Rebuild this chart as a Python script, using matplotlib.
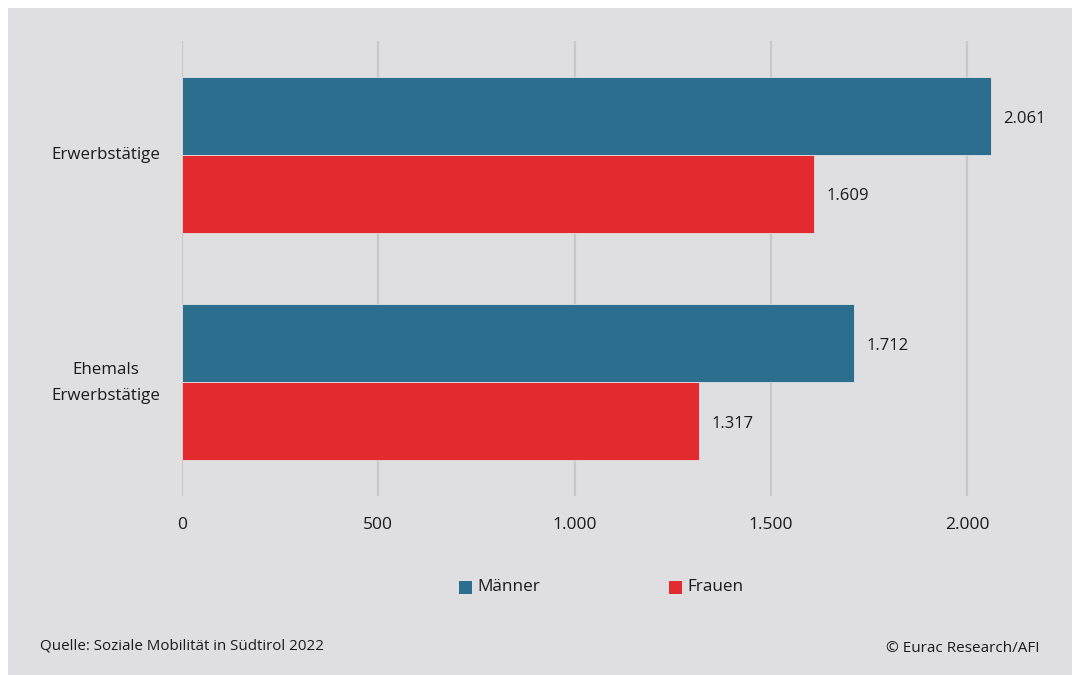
import matplotlib
matplotlib.use("Agg")
import matplotlib.pyplot as plt
from matplotlib.patches import Rectangle
import matplotlib.transforms as mtransforms
import numpy as np

categories = ["Erwerbstätige", "Ehemals\nErwerbstätige"]
maenner = [2061, 1712]
frauen = [1609, 1317]
value_labels_m = ["2.061", "1.712"]
value_labels_f = ["1.609", "1.317"]
xticks = [0, 500, 1000, 1500, 2000]
xtick_labels = ["0", "500", "1.000", "1.500", "2.000"]
series_names = ["Männer", "Frauen"]

BLUE = "#2c6e8e"
RED = "#e32b2f"
BG = "#dfdfe1"
GRID = "#c8c8ca"
TXT = "#1a1a1a"

plt.rcParams['font.family'] = ['Open Sans', 'DejaVu Sans']

W, H = 1072, 675
fig = plt.figure(figsize=(W/100, H/100), dpi=100)
fig.patch.set_facecolor("white")
fig.add_artist(Rectangle((8/W, 0), 1, 1 - 8/H, transform=fig.transFigure,
                         facecolor=BG, edgecolor="none", zorder=0))

x0, x1 = 182, 182 + 2200 * (196.25 / 500)
ytop, ybot = 41, 496
ax = fig.add_axes([x0/W, 1 - ybot/H, (x1 - x0)/W, (ybot - ytop)/H])
ax.set_facecolor("none")
ax.set_xlim(0, 2200)
ax.set_ylim(1.5, -0.5)

y = np.arange(len(categories))
h = 0.342
ax.barh(y - h/2, maenner, height=h, color=BLUE, edgecolor="#dfe4e8", linewidth=0.6, zorder=3, label=series_names[0])
ax.barh(y + h/2, frauen, height=h, color=RED, edgecolor="#e8dede", linewidth=0.6, zorder=3, label=series_names[1])

down = mtransforms.ScaledTranslation(0, -2/72, fig.dpi_scale_trans)
for yi, v, lab in zip(y, maenner, value_labels_m):
    ax.text(v + 32, yi - h/2, lab, va="center", ha="left", fontsize=12, color=TXT,
            transform=ax.transData + down)
for yi, v, lab in zip(y, frauen, value_labels_f):
    ax.text(v + 32, yi + h/2, lab, va="center", ha="left", fontsize=12, color=TXT,
            transform=ax.transData + down)

ax.set_xticks(xticks)
ax.set_xticklabels(xtick_labels, fontsize=12.5, color=TXT)
ax.grid(axis="x", color=GRID, linewidth=1.6, zorder=0)
ax.tick_params(axis="x", length=0, pad=15)
ax.tick_params(axis="y", length=0, pad=16)
ax.set_yticks(y)
ax.set_yticklabels(categories, fontsize=12.2, color=TXT, linespacing=1.85)
for lbl, cat in zip(ax.get_yticklabels(), categories):
    lbl.set_multialignment("center")
    nl = cat.count("\n")
    up = (1.5 + 4.5 * nl) * 0.75  # points
    lbl.set_transform(lbl.get_transform() +
                      mtransforms.ScaledTranslation(0, up/72, fig.dpi_scale_trans))
for s in ax.spines.values():
    s.set_visible(False)

# legend
def legend_item(xpix, color, text):
    fig.add_artist(Rectangle((xpix/W, 1 - 594/H), 13/W, 13/H, transform=fig.transFigure,
                             facecolor=color, edgecolor="none"))
    fig.text((xpix + 18)/W, 1 - 587/H, text, ha="left", va="center", fontsize=12.3, color=TXT)

legend_item(459, BLUE, series_names[0])
legend_item(669, RED, series_names[1])

fig.text(40/W, 1 - 646/H, "Quelle: Soziale Mobilität in Südtirol 2022", ha="left", va="center",
         fontsize=10.9, color=TXT)
fig.text(1039/W, 1 - 648/H, "© Eurac Research/AFI", ha="right", va="center",
         fontsize=11, color=TXT)

fig.savefig("out.png", dpi=100, facecolor=fig.get_facecolor())
